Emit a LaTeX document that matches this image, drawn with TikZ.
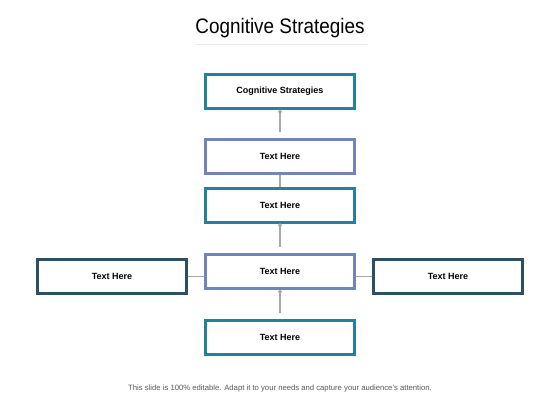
\documentclass[tikz,border=0pt]{standalone}
\usepackage{fontspec}
\setmainfont{Liberation Sans}
\usetikzlibrary{arrows.meta}
\definecolor{teal1}{HTML}{21829A}
\definecolor{blueg}{HTML}{6E87B8}
\definecolor{slate}{HTML}{2D4F63}
\definecolor{conng}{HTML}{A8A8A8}
\begin{document}
\begin{tikzpicture}[x=1pt,y=-1pt,
  box/.style={draw=#1,line width=3pt,fill=white,minimum width=149pt,minimum height=34pt,inner sep=0pt,font=\fontsize{9}{11}\selectfont\bfseries},
  vconn/.style={draw=conng,line width=1.6pt,{Circle[length=3.5pt,width=3.5pt]}-,shorten >=6pt},
  hconn/.style={draw=conng,line width=1.2pt}]
\useasboundingbox[fill=white] (0,0) rectangle (560,420);
\node[font=\addfontfeature{FakeStretch=0.9}\fontsize{21}{24}\selectfont] (title) at (280,28) {Cognitive Strategies};
\draw[draw=black!8,line width=0.8pt] (title.south west) ++(4,3) coordinate (tl) -- (tl -| title.south east);
\node[box=teal1] (b1) at (280,91.5) {Cognitive Strategies};
\node[box=blueg] (b2) at (280,156) {Text Here};
\node[box=teal1] (b3) at (280,205) {Text Here};
\node[box=blueg] (b4) at (280,271.5) {Text Here};
\node[box=teal1] (b5) at (280,337.5) {Text Here};
\node[box=slate] (l) at (112,276.5) {Text Here};
\node[box=slate] (r) at (448,276.5) {Text Here};
\draw[vconn] (b1.south) -- (b2.north);
\draw[hconn] (b2.south) -- (b3.north);
\draw[vconn] (b3.south) -- (b4.north);
\draw[vconn] (b4.south) -- (b5.north);
\draw[hconn] (l.east) -- (l.east -| b4.west);
\draw[hconn] (r.west) -- (r.west -| b4.east);
\node[font=\fontsize{7.7}{9}\selectfont,text=black!65] (foot) at (280,389) {This slide is 100\% editable. Adapt it to your needs and capture your audience's attention.};
\end{tikzpicture}
\end{document}
